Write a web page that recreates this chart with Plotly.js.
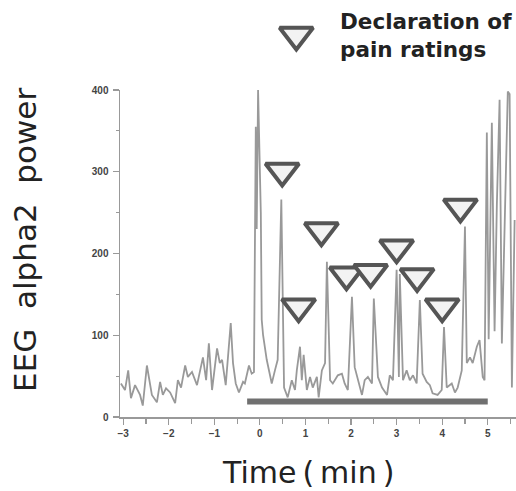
<!DOCTYPE html>
<html>
<head>
<meta charset="utf-8">
<script src="https://cdn.plot.ly/plotly-3.0.1.min.js"></script>
<style>
html,body{margin:0;padding:0;background:#fff;}
#chart{width:516px;height:491px;}
</style>
</head>
<body>
<div id="chart"></div>
<script>
// EEG trace (time in minutes, alpha2 power)
const timeMin = [-3.05,-2.96,-2.89,-2.83,-2.74,-2.63,-2.57,-2.48,-2.37,-2.26,-2.19,-2.13,-2.06,-1.97,-1.86,-1.80,-1.73,-1.64,-1.58,-1.49,-1.38,-1.34,-1.25,-1.18,-1.12,-1.05,-0.94,-0.88,-0.83,-0.75,-0.70,-0.64,-0.59,-0.53,-0.46,-0.37,-0.33,-0.24,-0.18,-0.13,-0.09,-0.07,-0.04,-0.01,0.02,0.04,0.07,0.15,0.26,0.33,0.39,0.47,0.53,0.61,0.70,0.77,0.81,0.88,0.92,0.96,1.03,1.10,1.16,1.25,1.29,1.36,1.43,1.47,1.54,1.60,1.71,1.80,1.86,1.93,2.02,2.08,2.15,2.24,2.30,2.37,2.46,2.50,2.59,2.68,2.79,2.85,2.92,3.00,3.05,3.07,3.14,3.22,3.29,3.36,3.44,3.51,3.57,3.66,3.73,3.79,3.90,3.99,4.04,4.10,4.21,4.28,4.34,4.43,4.50,4.54,4.61,4.67,4.76,4.82,4.89,4.93,4.98,5.02,5.09,5.15,5.20,5.26,5.31,5.37,5.44,5.48,5.53,5.59];
const alphaPower = [41,33,57,23,39,27,14,63,27,18,43,27,35,30,17,45,36,63,49,55,39,49,73,45,90,33,84,66,70,39,70,115,66,41,30,43,41,63,53,55,355,230,400,330,250,119,100,70,41,57,70,266,36,24,45,33,57,86,45,76,33,49,36,49,24,57,66,190,45,41,51,53,41,33,147,61,45,27,45,49,41,145,49,36,27,51,45,180,49,175,45,57,45,51,41,143,53,43,39,29,27,33,110,36,41,30,36,57,233,66,73,66,86,94,49,45,348,95,360,105,260,388,90,250,398,395,36,241];

// Declarations of pain ratings
const declTime = [0.49,0.85,1.35,1.90,2.43,3.00,3.45,4.00,4.40];
const declLevel = [301,135,228,174,177,207,172,135,257];

// Stimulation period bar
const stimTime = [-0.28,5.0];
const stimLevel = [19,19];

const xTickVals = [-3,-2,-1,0,1,2,3,4,5];
const yTickVals = [0,100,200,300,400];

const triMarker = {symbol:'triangle-down', size:29, color:'#f3f3f3', line:{color:'#555555', width:4}};

const traces = [
  {x: timeMin, y: alphaPower, mode:'lines', line:{color:'#999999', width:1.8}, hoverinfo:'skip', showlegend:false},
  {x: stimTime, y: stimLevel, mode:'lines', line:{color:'#707070', width:6}, showlegend:false},
  {x: declTime, y: declLevel, mode:'markers', marker: triMarker, showlegend:false, cliponaxis:false},
  // legend key symbol, drawn in a hidden strip above the plot
  {x: [0.80], y: [55], xaxis:'x', yaxis:'y2', mode:'markers', marker: triMarker, showlegend:false, cliponaxis:false}
];

const axFont = {family:'Liberation Sans, Arial, sans-serif', size:10, color:'#444', weight:'bold'};
const mainTop = 327/417;
const layout = {
  width:516, height:491,
  margin:{l:120, r:0, t:0, b:74, pad:0},
  paper_bgcolor:'#fff', plot_bgcolor:'#fff',
  showlegend:false,
  xaxis:{range:[-3.07,5.62], tickvals:xTickVals, ticks:'outside', ticklen:6, tickwidth:1.2, tickcolor:'#999',
         showline:true, linecolor:'#999', linewidth:1.5, showgrid:false, zeroline:false, tickfont:axFont,
         anchor:'y',
         minor:{dtick:0.5, tick0:0, ticks:'outside', ticklen:5, tickcolor:'#999', showgrid:false}},
  yaxis:{domain:[0, mainTop], range:[0,400], tickvals:yTickVals, ticks:'outside', ticklen:6, tickwidth:1.2, tickcolor:'#999',
         showline:true, linecolor:'#999', linewidth:1.5, showgrid:false, zeroline:false, tickfont:axFont,
         ticklabelstandoff:2,
         minor:{dtick:50, tick0:0, ticks:'outside', ticklen:3, tickcolor:'#999', showgrid:false}},
  yaxis2:{domain:[mainTop, 1], range:[0,90], visible:false, anchor:'x', fixedrange:true},
  annotations:[
    {text:'EEG\u00a0\u00a0alpha2\u00a0\u00a0power', xref:'paper', yref:'paper', x:-0.24, y:0.4245, xanchor:'center', yanchor:'middle',
     textangle:-90, showarrow:false, font:{family:'DejaVu Sans', size:31, color:'#222'}},
    {text:'Time\u2009(\u2009min\u2009)', xref:'paper', yref:'paper', x:0.4735, y:-0.1319, xanchor:'center', yanchor:'middle',
     showarrow:false, font:{family:'DejaVu Sans', size:30, color:'#222'}},
    {text:'<b>Declaration of</b><br><b>pain ratings</b>', xref:'paper', yref:'paper', x:0.5505, y:0.9137, xanchor:'left', yanchor:'middle',
     align:'left', showarrow:false, font:{family:'DejaVu Sans', size:21.5, color:'#222'}}
  ]
};

Plotly.newPlot('chart', traces, layout, {displayModeBar:false, staticPlot:true});
</script>
</body>
</html>
